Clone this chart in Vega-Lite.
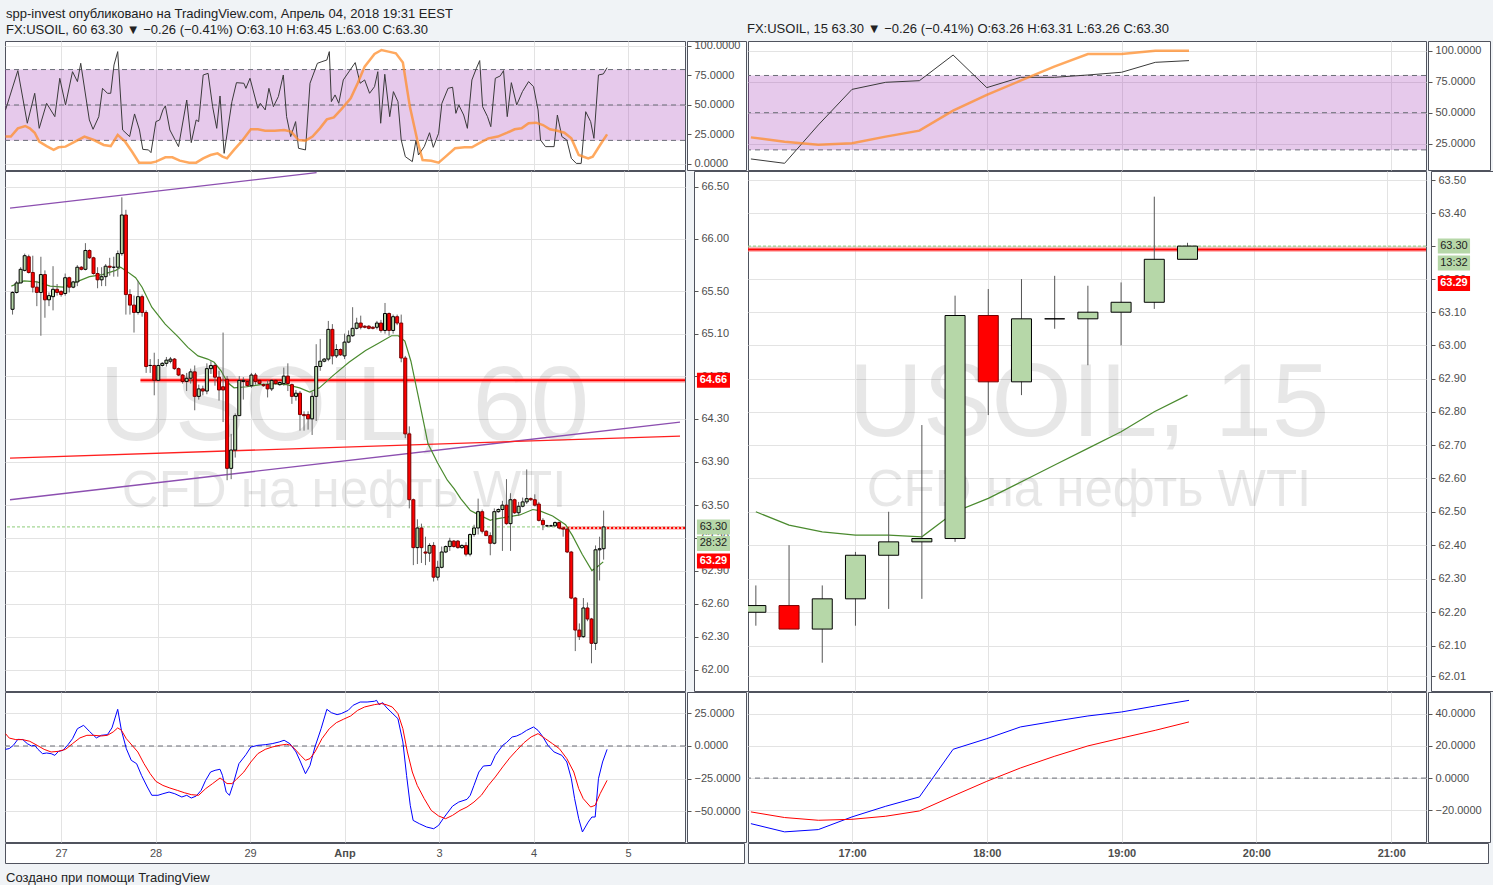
{
"$schema": "https://vega.github.io/schema/vega-lite/v6.json",
"background": "#f0f3f6",
"padding": {"left": 4, "top": 7, "right": 0, "bottom": 0},
"config": {
  "view": {"stroke": "#50535e", "strokeWidth": 1, "fill": "#ffffff"},
  "axis": {"labelFont": "Liberation Sans, Arial, sans-serif", "labelFontSize": 11, "labelColor": "#4d4d4d", "gridColor": "#e3e3e3", "gridWidth": 1, "tickColor": "#555555"},
  "concat": {"spacing": 0},
  "text": {"font": "Liberation Sans, sans-serif"}
},
"datasets": {
"c60": [
{"i":-13,"o":65.33,"hi":65.50,"lo":65.28,"c":65.49},{"i":-12,"o":65.49,"hi":65.60,"lo":65.48,"c":65.58},{"i":-11,"o":65.58,"hi":65.73,"lo":65.58,"c":65.71},{"i":-10,"o":65.70,"hi":65.86,"lo":65.69,"c":65.84},{"i":-9,"o":65.83,"hi":65.85,"lo":65.67,"c":65.68},{"i":-8,"o":65.68,"hi":65.84,"lo":65.49,"c":65.54},{"i":-7,"o":65.54,"hi":65.60,"lo":65.36,"c":65.49},{"i":-6,"o":65.49,"hi":65.83,"lo":65.08,"c":65.66},{"i":-5,"o":65.66,"hi":65.70,"lo":65.25,"c":65.42},{"i":-4,"o":65.42,"hi":65.49,"lo":65.36,"c":65.46},{"i":-3,"o":65.45,"hi":65.74,"lo":65.32,"c":65.52},{"i":-2,"o":65.52,"hi":65.57,"lo":65.46,"c":65.49},{"i":-1,"o":65.50,"hi":65.51,"lo":65.45,"c":65.47},
{"i":0,"o":65.48,"hi":65.67,"lo":65.46,"c":65.63},{"i":1,"o":65.63,"hi":65.64,"lo":65.49,"c":65.54},{"i":2,"o":65.54,"hi":65.60,"lo":65.53,"c":65.59},{"i":3,"o":65.59,"hi":65.75,"lo":65.55,"c":65.73},{"i":4,"o":65.73,"hi":65.74,"lo":65.70,"c":65.71},{"i":5,"o":65.71,"hi":65.96,"lo":65.70,"c":65.89},{"i":6,"o":65.89,"hi":65.90,"lo":65.81,"c":65.82},{"i":7,"o":65.82,"hi":65.83,"lo":65.66,"c":65.67},{"i":8,"o":65.67,"hi":65.73,"lo":65.53,"c":65.61},{"i":9,"o":65.61,"hi":65.73,"lo":65.55,"c":65.64},{"i":10,"o":65.64,"hi":65.76,"lo":65.55,"c":65.74},{"i":11,"o":65.74,"hi":65.82,"lo":65.65,"c":65.73},{"i":12,"o":65.73,"hi":65.83,"lo":65.64,"c":65.73},{"i":13,"o":65.73,"hi":65.89,"lo":65.64,"c":65.86},{"i":14,"o":65.86,"hi":66.40,"lo":65.84,"c":66.23},{"i":15,"o":66.23,"hi":66.28,"lo":65.28,"c":65.47},{"i":16,"o":65.47,"hi":65.52,"lo":65.28,"c":65.37},{"i":17,"o":65.37,"hi":65.46,"lo":65.11,"c":65.30},{"i":18,"o":65.30,"hi":65.60,"lo":65.28,"c":65.45},{"i":19,"o":65.45,"hi":65.47,"lo":65.26,"c":65.30},{"i":20,"o":65.30,"hi":65.32,"lo":64.73,"c":64.79},{"i":21,"o":64.80,"hi":64.86,"lo":64.73,"c":64.80},{"i":22,"o":64.80,"hi":64.92,"lo":64.52,"c":64.66},
{"i":23,"o":64.66,"hi":64.86,"lo":64.66,"c":64.80},{"i":24,"o":64.80,"hi":64.83,"lo":64.79,"c":64.82},{"i":25,"o":64.82,"hi":64.88,"lo":64.79,"c":64.85},{"i":26,"o":64.84,"hi":64.88,"lo":64.82,"c":64.86},{"i":27,"o":64.86,"hi":64.87,"lo":64.76,"c":64.77},{"i":28,"o":64.77,"hi":64.78,"lo":64.70,"c":64.71},{"i":29,"o":64.71,"hi":64.72,"lo":64.63,"c":64.65},{"i":30,"o":64.65,"hi":64.73,"lo":64.56,"c":64.68},{"i":31,"o":64.68,"hi":64.77,"lo":64.63,"c":64.74},{"i":32,"o":64.74,"hi":64.80,"lo":64.38,"c":64.51},{"i":33,"o":64.51,"hi":64.62,"lo":64.48,"c":64.58},{"i":34,"o":64.58,"hi":64.61,"lo":64.52,"c":64.56},{"i":35,"o":64.56,"hi":64.82,"lo":64.53,"c":64.77},{"i":36,"o":64.77,"hi":64.84,"lo":64.72,"c":64.80},{"i":37,"o":64.80,"hi":64.82,"lo":64.61,"c":64.69},{"i":38,"o":64.69,"hi":64.75,"lo":64.47,"c":64.57},{"i":39,"o":64.60,"hi":65.11,"lo":64.27,"c":64.57},{"i":40,"o":64.67,"hi":64.70,"lo":63.73,"c":63.84},{"i":41,"o":63.84,"hi":64.16,"lo":63.74,"c":64.01},{"i":42,"o":64.01,"hi":64.35,"lo":63.94,"c":64.33},{"i":43,"o":64.33,"hi":64.70,"lo":64.33,"c":64.66},{"i":44,"o":64.65,"hi":64.69,"lo":64.48,"c":64.66},{"i":45,"o":64.65,"hi":64.66,"lo":64.60,"c":64.61},
{"i":46,"o":64.61,"hi":64.73,"lo":64.59,"c":64.71},{"i":47,"o":64.71,"hi":64.73,"lo":64.62,"c":64.65},{"i":48,"o":64.66,"hi":64.67,"lo":64.62,"c":64.63},{"i":49,"o":64.62,"hi":64.63,"lo":64.60,"c":64.61},{"i":50,"o":64.62,"hi":64.66,"lo":64.50,"c":64.58},{"i":51,"o":64.58,"hi":64.67,"lo":64.56,"c":64.66},{"i":52,"o":64.66,"hi":64.67,"lo":64.62,"c":64.63},{"i":53,"o":64.62,"hi":64.65,"lo":64.61,"c":64.64},{"i":54,"o":64.63,"hi":64.78,"lo":64.61,"c":64.70},{"i":55,"o":64.70,"hi":64.82,"lo":64.56,"c":64.63},{"i":56,"o":64.62,"hi":64.63,"lo":64.44,"c":64.51},{"i":57,"o":64.51,"hi":64.57,"lo":64.47,"c":64.54},{"i":58,"o":64.54,"hi":64.56,"lo":64.19,"c":64.34},{"i":59,"o":64.34,"hi":64.37,"lo":64.19,"c":64.33},{"i":60,"o":64.34,"hi":64.37,"lo":64.20,"c":64.30},{"i":61,"o":64.30,"hi":64.55,"lo":64.15,"c":64.51},{"i":62,"o":64.51,"hi":65.00,"lo":64.28,"c":64.79},{"i":63,"o":64.79,"hi":65.05,"lo":64.75,"c":64.84},{"i":64,"o":64.84,"hi":64.87,"lo":64.83,"c":64.86},{"i":65,"o":64.86,"hi":65.22,"lo":64.84,"c":65.14},{"i":66,"o":65.14,"hi":65.19,"lo":64.81,"c":64.89},{"i":67,"o":64.89,"hi":65.00,"lo":64.87,"c":64.95},{"i":68,"o":64.95,"hi":64.96,"lo":64.89,"c":64.90},
{"i":69,"o":64.89,"hi":65.10,"lo":64.86,"c":65.02},{"i":70,"o":65.02,"hi":65.13,"lo":65.01,"c":65.08},{"i":71,"o":65.08,"hi":65.35,"lo":65.07,"c":65.15},{"i":72,"o":65.15,"hi":65.25,"lo":65.14,"c":65.20},{"i":73,"o":65.20,"hi":65.27,"lo":65.14,"c":65.16},{"i":74,"o":65.17,"hi":65.18,"lo":65.15,"c":65.16},{"i":75,"o":65.17,"hi":65.18,"lo":65.14,"c":65.15},{"i":76,"o":65.16,"hi":65.17,"lo":65.14,"c":65.15},{"i":77,"o":65.16,"hi":65.22,"lo":65.14,"c":65.20},{"i":78,"o":65.20,"hi":65.23,"lo":65.11,"c":65.13},{"i":79,"o":65.13,"hi":65.39,"lo":65.10,"c":65.29},{"i":80,"o":65.29,"hi":65.30,"lo":65.08,"c":65.13},{"i":81,"o":65.13,"hi":65.28,"lo":65.10,"c":65.26},{"i":82,"o":65.26,"hi":65.28,"lo":65.18,"c":65.20},{"i":83,"o":65.20,"hi":65.28,"lo":64.83,"c":64.87},{"i":84,"o":64.87,"hi":64.89,"lo":64.12,"c":64.16},{"i":85,"o":64.16,"hi":64.23,"lo":63.47,"c":63.55},{"i":86,"o":63.55,"hi":63.56,"lo":62.95,"c":63.11},{"i":87,"o":63.11,"hi":63.37,"lo":62.96,"c":63.29},{"i":88,"o":63.29,"hi":63.33,"lo":62.97,"c":63.11},{"i":89,"o":63.07,"hi":63.21,"lo":62.95,"c":63.06},{"i":90,"o":63.06,"hi":63.15,"lo":62.98,"c":63.13},{"i":91,"o":63.13,"hi":63.16,"lo":62.80,"c":62.84},
{"i":92,"o":62.84,"hi":62.99,"lo":62.81,"c":62.93},{"i":93,"o":62.93,"hi":63.12,"lo":62.92,"c":63.07},{"i":94,"o":63.07,"hi":63.13,"lo":63.06,"c":63.12},{"i":95,"o":63.12,"hi":63.20,"lo":63.08,"c":63.17},{"i":96,"o":63.17,"hi":63.18,"lo":63.11,"c":63.12},{"i":97,"o":63.17,"hi":63.18,"lo":63.10,"c":63.11},{"i":98,"o":63.11,"hi":63.14,"lo":63.10,"c":63.13},{"i":99,"o":63.13,"hi":63.16,"lo":63.03,"c":63.05},{"i":100,"o":63.05,"hi":63.24,"lo":63.03,"c":63.23},{"i":101,"o":63.23,"hi":63.32,"lo":63.21,"c":63.29},{"i":102,"o":63.29,"hi":63.56,"lo":63.23,"c":63.44},{"i":103,"o":63.44,"hi":63.46,"lo":63.24,"c":63.26},{"i":104,"o":63.26,"hi":63.27,"lo":63.22,"c":63.22},{"i":105,"o":63.22,"hi":63.25,"lo":63.04,"c":63.15},{"i":106,"o":63.15,"hi":63.47,"lo":63.14,"c":63.44},{"i":107,"o":63.44,"hi":63.47,"lo":63.43,"c":63.46},{"i":108,"o":63.46,"hi":63.54,"lo":63.08,"c":63.50},{"i":109,"o":63.50,"hi":63.74,"lo":63.32,"c":63.33},{"i":110,"o":63.33,"hi":63.61,"lo":63.08,"c":63.55},{"i":111,"o":63.55,"hi":63.56,"lo":63.42,"c":63.43},{"i":112,"o":63.43,"hi":63.53,"lo":63.40,"c":63.49},{"i":113,"o":63.49,"hi":63.57,"lo":63.48,"c":63.53},{"i":114,"o":63.53,"hi":63.83,"lo":63.51,"c":63.56},
{"i":115,"o":63.56,"hi":63.57,"lo":63.54,"c":63.55},{"i":116,"o":63.55,"hi":63.60,"lo":63.49,"c":63.50},{"i":117,"o":63.51,"hi":63.53,"lo":63.35,"c":63.36},{"i":118,"o":63.36,"hi":63.38,"lo":63.27,"c":63.32},{"i":119,"o":63.31,"hi":63.32,"lo":63.30,"c":63.31},{"i":120,"o":63.31,"hi":63.32,"lo":63.30,"c":63.31},{"i":121,"o":63.31,"hi":63.35,"lo":63.30,"c":63.34},{"i":122,"o":63.34,"hi":63.35,"lo":63.28,"c":63.29},{"i":123,"o":63.29,"hi":63.29,"lo":63.21,"c":63.28},{"i":124,"o":63.28,"hi":63.29,"lo":63.06,"c":63.07},{"i":125,"o":63.07,"hi":63.08,"lo":62.64,"c":62.65},{"i":126,"o":62.65,"hi":62.66,"lo":62.17,"c":62.36},{"i":127,"o":62.36,"hi":62.42,"lo":62.27,"c":62.30},{"i":128,"o":62.30,"hi":62.65,"lo":62.29,"c":62.56},{"i":129,"o":62.56,"hi":62.61,"lo":62.44,"c":62.46},{"i":130,"o":62.46,"hi":62.47,"lo":62.06,"c":62.24},{"i":131,"o":62.24,"hi":63.13,"lo":62.18,"c":63.09},{"i":132,"o":63.09,"hi":63.21,"lo":62.81,"c":63.10},{"i":133,"o":63.10,"hi":63.45,"lo":63.00,"c":63.30}
],
"ema60": [
{"i":-13.3,"v":65.55},{"i":-10.2,"v":65.60},{"i":-7.0,"v":65.59},{"i":-3.7,"v":65.55},{"i":-0.5,"v":65.54},{"i":2.8,"v":65.59},{"i":6.0,"v":65.64},{"i":9.2,"v":65.66},{"i":12.5,"v":65.70},{"i":13.7,"v":65.73},{"i":14.9,"v":65.70},{"i":17.4,"v":65.63},{"i":19.0,"v":65.54},{"i":21.4,"v":65.35},{"i":24.7,"v":65.19},{"i":27.9,"v":65.07},{"i":30.3,"v":64.97},{"i":32.8,"v":64.89},{"i":35.2,"v":64.86},{"i":36.8,"v":64.83},{"i":38.5,"v":64.75},{"i":40.1,"v":64.64},{"i":41.7,"v":64.59},{"i":44.9,"v":64.60},{"i":48.2,"v":64.62},{"i":51.4,"v":64.63},{"i":54.7,"v":64.62},{"i":57.9,"v":64.59},{"i":60.4,"v":64.55},{"i":62.8,"v":64.59},{"i":66.0,"v":64.70},{"i":70.1,"v":64.83},{"i":74.2,"v":64.94},{"i":77.4,"v":65.01},{"i":80.6,"v":65.08},{"i":82.3,"v":65.08},{"i":83.9,"v":65.03},{"i":85.4,"v":64.84},{"i":87.1,"v":64.53},{"i":88.8,"v":64.22},{"i":89.6,"v":64.07},{"i":92.0,"v":63.89},{"i":94.4,"v":63.73},{"i":96.1,"v":63.65},{"i":97.7,"v":63.56},{"i":100.1,"v":63.45},{"i":101.7,"v":63.42},{"i":105.0,"v":63.36},{"i":105.8,"v":63.37},{"i":109.0,"v":63.39},{"i":112.3,"v":63.41},{"i":115.5,"v":63.46},{"i":117.1,"v":63.45},{"i":120.4,"v":63.40},{"i":123.6,"v":63.32},{"i":125.3,"v":63.22},{"i":127.7,"v":63.05},{"i":130.1,"v":62.90},{"i":131.3,"v":62.93},{"i":132.9,"v":62.98}
],
"k60": [
{"i":-13.5,"v":45.8},{"i":-10.5,"v":79.1},{"i":-8.2,"v":34.5},{"i":-6.4,"v":59.9},{"i":-5.3,"v":30.2},{"i":-3.5,"v":51.4},{"i":-1.5,"v":40.1},{"i":-0.3,"v":72.6},{"i":1.1,"v":50.0},{"i":2.8,"v":78.2},{"i":4.0,"v":69.8},{"i":4.8,"v":85.3},{"i":6.9,"v":37.3},{"i":7.8,"v":29.4},{"i":9.2,"v":40.1},{"i":10.1,"v":64.1},{"i":11.3,"v":59.9},{"i":12.1,"v":59.9},{"i":12.9,"v":83.9},{"i":13.8,"v":95.2},{"i":15.0,"v":28.8},{"i":16.7,"v":23.2},{"i":17.9,"v":42.4},{"i":19.1,"v":28.8},{"i":19.9,"v":12.4},{"i":21.3,"v":11.9},{"i":21.9,"v":9.6},{"i":23.1,"v":35.9},{"i":24.0,"v":37.3},{"i":24.8,"v":45.8},{"i":25.4,"v":49.2},{"i":26.5,"v":28.8},{"i":28.6,"v":14.7},{"i":30.6,"v":54.2},{"i":31.7,"v":18.1},{"i":32.9,"v":37.3},{"i":33.5,"v":35.9},{"i":34.6,"v":75.4},{"i":35.8,"v":76.8},{"i":36.9,"v":48.6},{"i":37.9,"v":30.2},{"i":38.7,"v":57.6},{"i":39.7,"v":9.0},{"i":41.6,"v":52.8},{"i":42.7,"v":68.9},{"i":44.5,"v":68.4},{"i":45.0,"v":64.1},{"i":46.0,"v":72.6},{"i":47.9,"v":47.2},{"i":48.5,"v":51.4},{"i":49.7,"v":45.8},{"i":50.6,"v":64.1},{"i":51.7,"v":48.6},{"i":52.9,"v":57.1},{"i":54.1,"v":75.4},{"i":54.9,"v":40.1},{"i":55.9,"v":23.2},{"i":57.1,"v":35.9},{"i":57.8,"v":13.3},{"i":59.5,"v":11.9},{"i":60.6,"v":68.4},{"i":62.4,"v":85.3},{"i":63.5,"v":86.7},{"i":64.7,"v":88.1},{"i":65.3,"v":95.2},{"i":65.8,"v":52.8},{"i":66.7,"v":58.5},{"i":67.6,"v":51.4},{"i":68.7,"v":71.2},{"i":71.6,"v":85.9},{"i":72.8,"v":68.4},{"i":73.9,"v":71.2},{"i":75.1,"v":59.9},{"i":76.3,"v":65.5},{"i":77.1,"v":78.2},{"i":77.8,"v":34.5},{"i":78.8,"v":76.0},{"i":80.0,"v":40.1},{"i":80.9,"v":61.3},{"i":82.0,"v":52.8},{"i":82.8,"v":20.3},{"i":83.8,"v":6.2},{"i":85.5,"v":2.0},{"i":86.4,"v":20.3},{"i":87.0,"v":7.6},{"i":88.4,"v":14.7},{"i":89.7,"v":26.5},{"i":90.6,"v":14.1},{"i":91.9,"v":26.0},{"i":92.7,"v":51.4},{"i":94.2,"v":64.1},{"i":95.3,"v":65.0},{"i":96.1,"v":42.9},{"i":96.8,"v":50.0},{"i":98.0,"v":41.5},{"i":98.9,"v":30.2},{"i":100.0,"v":71.2},{"i":101.1,"v":81.1},{"i":101.9,"v":87.6},{"i":102.6,"v":48.6},{"i":103.8,"v":40.1},{"i":104.6,"v":31.6},{"i":105.7,"v":72.6},{"i":106.9,"v":74.6},{"i":107.7,"v":79.1},{"i":108.6,"v":40.1},{"i":109.6,"v":68.9},{"i":110.9,"v":50.0},{"i":112.3,"v":61.3},{"i":113.8,"v":69.8},{"i":115.0,"v":65.5},{"i":116.1,"v":45.8},{"i":116.7,"v":20.3},{"i":117.9,"v":14.7},{"i":120.0,"v":14.7},{"i":120.8,"v":41.5},{"i":121.9,"v":23.2},{"i":123.1,"v":20.3},{"i":124.2,"v":4.8},{"i":125.4,"v":0.5},{"i":126.6,"v":0.5},{"i":127.7,"v":44.3},{"i":128.9,"v":35.9},{"i":129.7,"v":21.7},{"i":130.8,"v":75.4},{"i":132.0,"v":76.3},{"i":132.9,"v":81.6}
],
"d60": [
{"i":-13.5,"v":23.2},{"i":-12.2,"v":23.2},{"i":-10.5,"v":30.2},{"i":-8.7,"v":32.2},{"i":-7.6,"v":30.2},{"i":-6.4,"v":26.5},{"i":-5.3,"v":18.9},{"i":-3.5,"v":15.2},{"i":-1.8,"v":11.9},{"i":-0.6,"v":14.1},{"i":1.1,"v":14.7},{"i":3.4,"v":18.9},{"i":5.7,"v":23.2},{"i":8.0,"v":20.3},{"i":10.4,"v":16.1},{"i":12.1,"v":15.2},{"i":13.8,"v":24.6},{"i":15.6,"v":18.9},{"i":17.3,"v":10.4},{"i":19.0,"v":1.1},{"i":21.9,"v":1.1},{"i":23.1,"v":2.0},{"i":25.4,"v":5.6},{"i":27.1,"v":5.6},{"i":28.9,"v":2.8},{"i":31.2,"v":1.1},{"i":32.9,"v":1.1},{"i":34.6,"v":4.8},{"i":36.4,"v":7.6},{"i":38.1,"v":9.0},{"i":39.3,"v":6.2},{"i":40.4,"v":4.8},{"i":42.1,"v":11.9},{"i":43.9,"v":18.9},{"i":46.2,"v":29.4},{"i":47.9,"v":29.4},{"i":49.7,"v":28.2},{"i":52.0,"v":28.2},{"i":54.3,"v":28.8},{"i":56.0,"v":27.4},{"i":57.8,"v":20.3},{"i":59.5,"v":19.8},{"i":61.2,"v":23.2},{"i":63.0,"v":30.2},{"i":64.7,"v":37.8},{"i":66.4,"v":39.5},{"i":68.2,"v":46.3},{"i":70.5,"v":55.7},{"i":72.2,"v":68.4},{"i":73.9,"v":82.5},{"i":76.3,"v":93.2},{"i":78.0,"v":96.6},{"i":79.7,"v":95.2},{"i":81.5,"v":93.8},{"i":83.2,"v":85.9},{"i":84.9,"v":48.6},{"i":86.7,"v":20.3},{"i":88.0,"v":3.4},{"i":90.1,"v":2.8},{"i":91.9,"v":1.1},{"i":93.6,"v":6.2},{"i":95.9,"v":13.3},{"i":98.2,"v":14.1},{"i":100.0,"v":14.1},{"i":101.7,"v":17.5},{"i":104.0,"v":21.7},{"i":106.3,"v":23.2},{"i":108.6,"v":26.5},{"i":110.4,"v":29.4},{"i":112.1,"v":30.2},{"i":113.8,"v":34.5},{"i":115.6,"v":35.0},{"i":117.3,"v":33.0},{"i":119.0,"v":29.4},{"i":120.8,"v":28.2},{"i":122.5,"v":26.5},{"i":124.2,"v":21.7},{"i":126.0,"v":7.6},{"i":128.3,"v":4.8},{"i":129.4,"v":6.2},{"i":131.2,"v":16.1},{"i":132.9,"v":25.1}
],
"ob60": [
{"i":-13.5,"v":-2.6},{"i":-12.6,"v":-2.0},{"i":-11.6,"v":0.5},{"i":-10.5,"v":5.1},{"i":-9.3,"v":4.9},{"i":-8.2,"v":1.8},{"i":-7.2,"v":0.0},{"i":-6.4,"v":0.5},{"i":-5.6,"v":-2.6},{"i":-4.5,"v":-5.9},{"i":-3.5,"v":-5.4},{"i":-2.4,"v":-5.9},{"i":-1.5,"v":-7.2},{"i":-0.6,"v":-4.1},{"i":0.5,"v":-3.3},{"i":1.7,"v":1.0},{"i":2.8,"v":5.6},{"i":4.0,"v":13.3},{"i":5.5,"v":15.9},{"i":6.9,"v":11.3},{"i":8.6,"v":6.2},{"i":9.8,"v":8.2},{"i":11.3,"v":8.7},{"i":12.4,"v":13.9},{"i":13.8,"v":28.2},{"i":14.7,"v":12.1},{"i":15.9,"v":-2.1},{"i":17.1,"v":-11.0},{"i":18.4,"v":-13.6},{"i":19.6,"v":-22.6},{"i":21.0,"v":-31.5},{"i":22.1,"v":-37.9},{"i":23.6,"v":-37.9},{"i":24.8,"v":-36.7},{"i":26.3,"v":-35.4},{"i":27.7,"v":-36.7},{"i":29.4,"v":-39.2},{"i":30.6,"v":-37.9},{"i":31.7,"v":-40.0},{"i":32.9,"v":-38.5},{"i":34.1,"v":-34.1},{"i":35.2,"v":-26.4},{"i":36.4,"v":-20.0},{"i":37.5,"v":-18.7},{"i":38.7,"v":-17.9},{"i":39.3,"v":-22.6},{"i":40.2,"v":-35.4},{"i":41.0,"v":-37.9},{"i":41.8,"v":-30.3},{"i":43.3,"v":-13.6},{"i":45.0,"v":-6.7},{"i":46.2,"v":-0.8},{"i":47.9,"v":0.5},{"i":49.7,"v":1.0},{"i":51.4,"v":1.8},{"i":53.1,"v":3.1},{"i":54.3,"v":4.4},{"i":55.7,"v":1.8},{"i":57.2,"v":-4.6},{"i":58.3,"v":-12.3},{"i":59.5,"v":-21.3},{"i":60.6,"v":-14.9},{"i":61.8,"v":-0.8},{"i":63.3,"v":13.3},{"i":64.7,"v":28.2},{"i":65.8,"v":25.6},{"i":67.2,"v":24.1},{"i":68.2,"v":24.9},{"i":69.9,"v":27.4},{"i":71.1,"v":31.3},{"i":72.8,"v":33.8},{"i":74.5,"v":33.8},{"i":76.3,"v":34.4},{"i":76.8,"v":35.1},{"i":77.4,"v":31.8},{"i":78.3,"v":33.3},{"i":79.1,"v":30.0},{"i":80.3,"v":26.2},{"i":82.0,"v":21.0},{"i":83.2,"v":3.1},{"i":84.1,"v":-22.6},{"i":85.0,"v":-45.6},{"i":85.7,"v":-57.2},{"i":87.2,"v":-59.7},{"i":89.0,"v":-62.3},{"i":90.7,"v":-63.6},{"i":91.9,"v":-61.0},{"i":93.0,"v":-55.9},{"i":94.2,"v":-50.8},{"i":95.3,"v":-46.2},{"i":96.8,"v":-43.1},{"i":98.8,"v":-41.0},{"i":99.6,"v":-37.9},{"i":100.5,"v":-30.3},{"i":101.7,"v":-20.0},{"i":102.8,"v":-15.4},{"i":104.6,"v":-14.9},{"i":105.7,"v":-7.2},{"i":107.5,"v":0.5},{"i":108.4,"v":2.6},{"i":109.8,"v":6.9},{"i":110.9,"v":7.7},{"i":112.1,"v":9.5},{"i":113.3,"v":12.0},{"i":115.0,"v":14.6},{"i":116.1,"v":12.0},{"i":117.3,"v":6.9},{"i":118.5,"v":0.5},{"i":120.0,"v":-4.6},{"i":121.9,"v":-7.2},{"i":123.1,"v":-12.3},{"i":124.2,"v":-25.1},{"i":125.0,"v":-40.5},{"i":126.0,"v":-55.9},{"i":126.9,"v":-66.1},{"i":128.3,"v":-58.5},{"i":129.2,"v":-54.6},{"i":130.0,"v":-54.6},{"i":130.8,"v":-25.1},{"i":131.8,"v":-12.3},{"i":132.9,"v":-2.6}
],
"or60": [
{"i":-13.5,"v":9.5},{"i":-12.6,"v":6.1},{"i":-11.0,"v":4.9},{"i":-9.3,"v":4.9},{"i":-7.6,"v":3.6},{"i":-5.8,"v":0.5},{"i":-4.1,"v":-2.6},{"i":-2.4,"v":-4.6},{"i":-0.6,"v":-4.1},{"i":1.1,"v":-2.6},{"i":2.8,"v":1.8},{"i":4.6,"v":6.2},{"i":6.3,"v":8.2},{"i":8.0,"v":8.2},{"i":9.8,"v":7.7},{"i":11.3,"v":8.2},{"i":12.7,"v":10.8},{"i":13.8,"v":13.9},{"i":14.7,"v":12.1},{"i":15.9,"v":5.6},{"i":17.3,"v":0.5},{"i":18.7,"v":-4.6},{"i":20.2,"v":-13.6},{"i":21.7,"v":-21.3},{"i":23.1,"v":-27.2},{"i":24.8,"v":-30.3},{"i":26.5,"v":-32.3},{"i":28.3,"v":-34.1},{"i":30.0,"v":-35.9},{"i":31.7,"v":-37.4},{"i":33.5,"v":-37.9},{"i":35.2,"v":-32.8},{"i":36.9,"v":-28.9},{"i":38.7,"v":-24.6},{"i":39.5,"v":-26.4},{"i":40.4,"v":-28.9},{"i":41.6,"v":-28.9},{"i":42.7,"v":-25.6},{"i":44.5,"v":-20.0},{"i":46.2,"v":-12.3},{"i":47.9,"v":-5.9},{"i":49.7,"v":-2.6},{"i":51.4,"v":-0.8},{"i":53.1,"v":0.5},{"i":54.9,"v":1.3},{"i":56.0,"v":0.5},{"i":57.2,"v":-3.3},{"i":58.3,"v":-7.2},{"i":59.5,"v":-11.0},{"i":60.6,"v":-9.7},{"i":61.8,"v":-4.6},{"i":63.5,"v":5.6},{"i":65.3,"v":13.3},{"i":67.0,"v":17.9},{"i":68.7,"v":20.5},{"i":70.5,"v":23.1},{"i":72.2,"v":27.4},{"i":73.9,"v":30.0},{"i":76.3,"v":31.8},{"i":78.0,"v":32.6},{"i":79.1,"v":31.8},{"i":80.6,"v":30.0},{"i":82.0,"v":24.9},{"i":83.2,"v":13.3},{"i":84.3,"v":-4.6},{"i":85.5,"v":-20.0},{"i":86.7,"v":-30.3},{"i":88.4,"v":-40.5},{"i":90.1,"v":-49.5},{"i":91.9,"v":-53.8},{"i":93.6,"v":-55.9},{"i":95.3,"v":-53.3},{"i":97.1,"v":-49.5},{"i":98.8,"v":-46.9},{"i":100.5,"v":-43.1},{"i":102.3,"v":-37.9},{"i":104.0,"v":-30.3},{"i":105.7,"v":-23.8},{"i":107.5,"v":-16.1},{"i":109.2,"v":-9.2},{"i":110.9,"v":-3.3},{"i":112.7,"v":2.6},{"i":114.4,"v":6.9},{"i":116.1,"v":9.5},{"i":117.9,"v":5.6},{"i":119.6,"v":1.8},{"i":121.3,"v":-2.1},{"i":123.1,"v":-9.7},{"i":124.8,"v":-20.0},{"i":126.0,"v":-32.8},{"i":127.1,"v":-40.5},{"i":128.9,"v":-46.9},{"i":130.0,"v":-45.6},{"i":131.2,"v":-36.7},{"i":132.9,"v":-26.4}
],
"tr60": [
{"n":"a","i":-13.63,"p":66.295},{"n":"a","i":62.1,"p":66.638},
{"n":"b","i":-13.63,"p":63.55},{"n":"b","i":151.86,"p":64.27},
{"n":"c","i":-13.63,"p":63.935},{"n":"c","i":151.86,"p":64.14}
],
"mk60": [
{"p":64.66,"lab":"64.66","kind":"level"},{"p":63.30,"lab":"63.30","kind":"price"},{"p":63.30,"lab":"28:32","kind":"timer"},{"p":63.29,"lab":"63.29","kind":"alert"}
],
"mk15": [
{"p":63.30,"lab":"63.30","kind":"price"},{"p":63.30,"lab":"13:32","kind":"timer"},{"p":63.29,"lab":"63.29","kind":"alert"}
],
"c15": [
{"t":16.25,"o":62.20,"hi":62.28,"lo":62.16,"c":62.22},{"t":16.5,"o":62.22,"hi":62.40,"lo":62.15,"c":62.15},{"t":16.75,"o":62.15,"hi":62.28,"lo":62.05,"c":62.24},{"t":17.0,"o":62.24,"hi":62.38,"lo":62.16,"c":62.37},{"t":17.25,"o":62.37,"hi":62.50,"lo":62.21,"c":62.41},{"t":17.5,"o":62.41,"hi":62.76,"lo":62.24,"c":62.42},{"t":17.75,"o":62.42,"hi":63.15,"lo":62.41,"c":63.09},{"t":18.0,"o":63.09,"hi":63.17,"lo":62.79,"c":62.89},{"t":18.25,"o":62.89,"hi":63.20,"lo":62.85,"c":63.08},{"t":18.5,"o":63.08,"hi":63.21,"lo":63.05,"c":63.08},{"t":18.75,"o":63.08,"hi":63.18,"lo":62.94,"c":63.10},{"t":19.0,"o":63.10,"hi":63.19,"lo":63.00,"c":63.13},{"t":19.25,"o":63.13,"hi":63.45,"lo":63.11,"c":63.26},{"t":19.5,"o":63.26,"hi":63.31,"lo":63.26,"c":63.30}
],
"ema15": [
{"t":16.25,"v":62.50},{"t":16.5,"v":62.46},{"t":16.75,"v":62.44},{"t":17.0,"v":62.43},{"t":17.25,"v":62.43},{"t":17.5,"v":62.425},{"t":17.75,"v":62.50},{"t":18.0,"v":62.54},{"t":18.25,"v":62.59},{"t":18.5,"v":62.64},{"t":18.75,"v":62.69},{"t":19.0,"v":62.74},{"t":19.25,"v":62.80},{"t":19.5,"v":62.85}
],
"k15": [
{"t":16.25,"v":12.7},{"t":16.5,"v":9.2},{"t":16.75,"v":40.1},{"t":17.0,"v":68.8},{"t":17.25,"v":74.5},{"t":17.5,"v":75.8},{"t":17.75,"v":96.5},{"t":18.0,"v":70.2},{"t":18.25,"v":78.5},{"t":18.5,"v":78.5},{"t":18.75,"v":80.4},{"t":19.0,"v":82.6},{"t":19.25,"v":90.6},{"t":19.5,"v":92.0}
],
"d15": [
{"t":16.25,"v":30.1},{"t":16.5,"v":26.6},{"t":16.75,"v":24.2},{"t":17.0,"v":25.3},{"t":17.25,"v":30.7},{"t":17.5,"v":35.5},{"t":17.75,"v":51.6},{"t":18.0,"v":64.3},{"t":18.25,"v":75.8},{"t":18.5,"v":87.1},{"t":18.75,"v":97.3},{"t":19.0,"v":97.3},{"t":19.25,"v":100.0},{"t":19.5,"v":100.0}
],
"ob15": [
{"t":16.25,"v":-28.3},{"t":16.5,"v":-33.4},{"t":16.75,"v":-32.0},{"t":17.0,"v":-24.1},{"t":17.25,"v":-17.5},{"t":17.5,"v":-11.7},{"t":17.75,"v":17.9},{"t":18.0,"v":24.5},{"t":18.25,"v":31.8},{"t":18.5,"v":35.3},{"t":18.75,"v":38.6},{"t":19.0,"v":41.1},{"t":19.25,"v":44.8},{"t":19.5,"v":48.3}
],
"or15": [
{"t":16.25,"v":-21.0},{"t":16.5,"v":-24.5},{"t":16.75,"v":-26.2},{"t":17.0,"v":-25.6},{"t":17.25,"v":-23.7},{"t":17.5,"v":-20.4},{"t":17.75,"v":-11.1},{"t":18.0,"v":-2.0},{"t":18.25,"v":6.3},{"t":18.5,"v":13.5},{"t":18.75,"v":20.0},{"t":19.0,"v":24.9},{"t":19.25,"v":29.7},{"t":19.5,"v":34.9}
]
},
"title": {"text": "Создано при помощи   TradingView", "orient": "bottom", "anchor": "start", "dx": 2, "fontSize": 13, "fontWeight": "normal", "color": "#222222", "offset": 8, "font": "Liberation Sans, sans-serif"},
"vconcat": [
{
"title": {"text": "spp-invest опубликовано на TradingView.com, Апрель 04, 2018 19:31 EEST", "anchor": "start", "dx": 2, "fontSize": 13, "fontWeight": "normal", "color": "#222222", "offset": 2, "font": "Liberation Sans, sans-serif"},
"spacing": 743,
"bounds": "flush",
"hconcat": [
{
"title": {"text": "FX:USOIL, 60  63.30 ▼ −0.26 (−0.41%)  O:63.10  H:63.45  L:63.00  C:63.30", "anchor": "start", "dx": 2, "dy": 3, "fontSize": 13, "fontWeight": "normal", "color": "#222222", "offset": 5, "font": "Liberation Sans, sans-serif"},
"spacing": -2,
"vconcat": [
{"spacing": 0, "hconcat": [
 {"width": 680, "height": 129, "layer": [
  {"data": {"values": [{}]}, "mark": {"type": "rect", "fill": "#9c27b0", "opacity": 0.25},
   "encoding": {"x": {"value": 0}, "x2": {"value": "width"}, "y": {"datum": 20, "type": "quantitative", "scale": {"domain": [-5.1, 104.2], "nice": false, "zero": false}, "axis": {"values": [0,25,50,75,100], "labels": false, "ticks": false, "domain": false, "grid": true, "title": null}, "title": null}, "y2": {"datum": 80}}},
  {"data": {"values": [{"lvl": 80}, {"lvl": 50}, {"lvl": 20}]}, "mark": {"type": "rule", "color": "#6b6e78", "strokeDash": [5, 4], "strokeWidth": 1},
   "encoding": {"y": {"field": "lvl", "type": "quantitative", "title": null}}},
  {"data": {"name": "k60"}, "mark": {"type": "line", "color": "#3a3a3a", "strokeWidth": 1, "clip": true},
   "encoding": {"x": {"field": "i", "type": "quantitative", "scale": {"domain": [-13.629, 151.862], "nice": false, "zero": false}, "axis": {"values": [0,23,46,69,92,115,138], "labels": false, "ticks": false, "domain": false, "grid": true, "title": null}, "title": null}, "y": {"field": "v", "type": "quantitative", "title": null}}},
  {"data": {"name": "d60"}, "mark": {"type": "line", "color": "#ff8c2a", "strokeWidth": 2.5, "opacity": 0.75, "clip": true},
   "encoding": {"x": {"field": "i", "type": "quantitative", "title": null}, "y": {"field": "v", "type": "quantitative", "title": null}}}
 ]},
 {"width": 59, "height": 129, "data": {"name": "k60"}, "mark": {"type": "point", "opacity": 0},
  "encoding": {"y": {"field": "v", "type": "quantitative", "scale": {"domain": [-5.1, 104.2], "nice": false, "zero": false}, "axis": {"orient": "right", "offset": -59, "values": [0,25,50,75,100], "format": ".4f", "grid": false, "ticks": true, "tickSize": 4, "domain": false, "labelPadding": 3, "title": null}, "title": null}}}
]},
{"spacing": 0, "hconcat": [
 {"width": 680, "height": 520, "layer": [
  {"data": {"values": [{}]}, "mark": {"type": "text", "text": "USOIL, 60", "fontSize": 105, "color": "#000000", "opacity": 0.09, "align": "center", "baseline": "alphabetic"},
   "encoding": {"x": {"datum": 68.9, "type": "quantitative", "scale": {"domain": [-13.629, 151.862], "nice": false, "zero": false}, "axis": {"values": [0,23,46,69,92,115,138], "labels": false, "ticks": false, "domain": false, "grid": true, "title": null}, "title": null},
    "y": {"datum": 64.105, "type": "quantitative", "scale": {"type": "log", "domain": [61.811, 66.654], "nice": false}, "axis": {"values": [62.0,62.3,62.6,62.9,63.2,63.5,63.9,64.3,64.7,65.1,65.5,66.0,66.5], "labels": false, "ticks": false, "domain": false, "grid": true, "title": null}, "title": null}}},
  {"data": {"values": [{}]}, "mark": {"type": "text", "text": "CFD на нефть WTI", "fontSize": 51, "color": "#000000", "opacity": 0.09, "align": "center", "baseline": "alphabetic"},
   "encoding": {"x": {"datum": 68.9, "type": "quantitative"}, "y": {"datum": 63.48, "type": "quantitative"}}},
  {"data": {"name": "tr60"}, "mark": {"type": "line", "strokeWidth": 1.3, "clip": true},
   "encoding": {"x": {"field": "i", "type": "quantitative", "title": null}, "y": {"field": "p", "type": "quantitative", "title": null}, "detail": {"field": "n"},
    "color": {"field": "n", "type": "nominal", "scale": {"domain": ["a","b","c"], "range": ["#8c4fb0","#8c4fb0","#ff2020"]}, "legend": null}}},
  {"data": {"values": [{"p": 64.66, "i": 18.6}]}, "layer": [
    {"mark": {"type": "rule", "color": "#ff8080", "strokeWidth": 5, "opacity": 0.55},
     "encoding": {"x": {"field": "i", "type": "quantitative", "title": null}, "x2": {"value": "width"}, "y": {"field": "p", "type": "quantitative", "title": null}}},
    {"mark": {"type": "rule", "color": "#ff0000", "strokeWidth": 2},
     "encoding": {"x": {"field": "i", "type": "quantitative", "title": null}, "x2": {"value": "width"}, "y": {"field": "p", "type": "quantitative", "title": null}}}
  ]},
  {"data": {"values": [{"p": 63.30}]}, "mark": {"type": "rule", "color": "#8ccc78", "strokeDash": [3, 2], "strokeWidth": 1},
   "encoding": {"y": {"field": "p", "type": "quantitative", "title": null}}},
  {"data": {"values": [{"p": 63.29, "i": 122}]}, "layer": [
    {"mark": {"type": "rule", "color": "#ff9a9a", "strokeWidth": 4, "opacity": 0.6},
     "encoding": {"x": {"field": "i", "type": "quantitative", "title": null}, "x2": {"value": "width"}, "y": {"field": "p", "type": "quantitative", "title": null}}},
    {"mark": {"type": "rule", "color": "#ff0000", "strokeWidth": 2, "strokeDash": [2, 2]},
     "encoding": {"x": {"field": "i", "type": "quantitative", "title": null}, "x2": {"value": "width"}, "y": {"field": "p", "type": "quantitative", "title": null}}}
  ]},
  {"data": {"name": "ema60"}, "mark": {"type": "line", "color": "#4a8a2e", "strokeWidth": 1.2, "clip": true},
   "encoding": {"x": {"field": "i", "type": "quantitative", "title": null}, "y": {"field": "v", "type": "quantitative", "title": null}}},
  {"data": {"name": "c60"}, "mark": {"type": "rule", "color": "#666666", "strokeWidth": 1, "clip": true},
   "encoding": {"x": {"field": "i", "type": "quantitative", "title": null}, "y": {"field": "lo", "type": "quantitative", "title": null}, "y2": {"field": "hi"}}},
  {"data": {"name": "c60"}, "mark": {"type": "bar", "size": 3, "strokeWidth": 1, "clip": true},
   "encoding": {"x": {"field": "i", "type": "quantitative", "title": null}, "y": {"field": "o", "type": "quantitative", "title": null}, "y2": {"field": "c"},
    "fill": {"condition": {"test": "datum.c >= datum.o", "value": "#b6d7a8"}, "value": "#ff0000"},
    "stroke": {"condition": {"test": "datum.c >= datum.o", "value": "#000000"}, "value": "#7a0000"}}}
 ]},
 {"width": 59, "height": 520, "layer": [
  {"data": {"name": "c60"}, "mark": {"type": "point", "opacity": 0},
   "encoding": {"y": {"field": "c", "type": "quantitative", "scale": {"type": "log", "domain": [61.811, 66.654], "nice": false}, "axis": {"orient": "right", "offset": -59, "values": [62.0,62.3,62.6,62.9,63.2,63.5,63.9,64.3,64.7,65.1,65.5,66.0,66.5], "format": ".2f", "grid": false, "ticks": true, "tickSize": 4, "domain": false, "labelPadding": 3, "labelOverlap": false, "title": null}, "title": null}}},
  {"data": {"name": "mk60"}, "transform": [{"filter": "datum.kind == 'level'"}], "layer": [
    {"mark": {"type": "rule", "color": "#ff0000", "strokeWidth": 15}, "encoding": {"x": {"datum": 0.05, "type": "quantitative", "scale": {"domain": [0, 1]}, "axis": null}, "x2": {"datum": 0.61}, "y": {"field": "p", "type": "quantitative", "title": null}}},
    {"mark": {"type": "text", "color": "#ffffff", "fontSize": 11, "fontWeight": "bold", "align": "center", "baseline": "middle"}, "encoding": {"x": {"datum": 0.33, "type": "quantitative"}, "y": {"field": "p", "type": "quantitative", "title": null}, "text": {"field": "lab"}}}
  ]},
  {"data": {"name": "mk60"}, "transform": [{"filter": "datum.kind == 'price'"}], "layer": [
    {"mark": {"type": "rule", "color": "#b6d7a8", "strokeWidth": 15}, "encoding": {"x": {"datum": 0.05, "type": "quantitative"}, "x2": {"datum": 0.61}, "y": {"field": "p", "type": "quantitative", "title": null}}},
    {"mark": {"type": "text", "color": "#222222", "fontSize": 11, "align": "center", "baseline": "middle"}, "encoding": {"x": {"datum": 0.33, "type": "quantitative"}, "y": {"field": "p", "type": "quantitative", "title": null}, "text": {"field": "lab"}}}
  ]},
  {"data": {"name": "mk60"}, "transform": [{"filter": "datum.kind == 'timer'"}], "layer": [
    {"mark": {"type": "rule", "color": "#b6d7a8", "strokeWidth": 15, "yOffset": 16.5}, "encoding": {"x": {"datum": 0.05, "type": "quantitative"}, "x2": {"datum": 0.61}, "y": {"field": "p", "type": "quantitative", "title": null}}},
    {"mark": {"type": "text", "color": "#222222", "fontSize": 11, "align": "center", "baseline": "middle", "yOffset": 16.5}, "encoding": {"x": {"datum": 0.33, "type": "quantitative"}, "y": {"field": "p", "type": "quantitative", "title": null}, "text": {"field": "lab"}}}
  ]},
  {"data": {"name": "mk60"}, "transform": [{"filter": "datum.kind == 'alert'"}], "layer": [
    {"mark": {"type": "rule", "color": "#ff0000", "strokeWidth": 15, "yOffset": 33}, "encoding": {"x": {"datum": 0.05, "type": "quantitative"}, "x2": {"datum": 0.61}, "y": {"field": "p", "type": "quantitative", "title": null}}},
    {"mark": {"type": "text", "color": "#ffffff", "fontSize": 11, "fontWeight": "bold", "align": "center", "baseline": "middle", "yOffset": 33}, "encoding": {"x": {"datum": 0.33, "type": "quantitative"}, "y": {"field": "p", "type": "quantitative", "title": null}, "text": {"field": "lab"}}}
  ]}
 ]}
]},
{"spacing": 0, "hconcat": [
 {"width": 680, "height": 150, "layer": [
  {"data": {"values": [{"z": 0}]}, "mark": {"type": "rule", "color": "#6b6e78", "strokeDash": [5, 4], "strokeWidth": 1},
   "encoding": {"y": {"field": "z", "type": "quantitative", "scale": {"domain": [-73.8, 41.5], "nice": false, "zero": false}, "axis": {"values": [-50,-25,0,25], "labels": false, "ticks": false, "domain": false, "grid": true, "title": null}, "title": null}}},
  {"data": {"name": "ob60"}, "mark": {"type": "line", "color": "#0000ff", "strokeWidth": 1, "clip": true},
   "encoding": {"x": {"field": "i", "type": "quantitative", "scale": {"domain": [-13.629, 151.862], "nice": false, "zero": false}, "axis": {"values": [0,23,46,69,92,115,138], "labels": false, "ticks": false, "domain": false, "grid": true, "title": null}, "title": null}, "y": {"field": "v", "type": "quantitative", "title": null}}},
  {"data": {"name": "or60"}, "mark": {"type": "line", "color": "#ff0000", "strokeWidth": 1, "clip": true},
   "encoding": {"x": {"field": "i", "type": "quantitative", "title": null}, "y": {"field": "v", "type": "quantitative", "title": null}}}
 ]},
 {"width": 59, "height": 150, "data": {"name": "ob60"}, "mark": {"type": "point", "opacity": 0},
  "encoding": {"y": {"field": "v", "type": "quantitative", "scale": {"domain": [-73.8, 41.5], "nice": false, "zero": false}, "axis": {"orient": "right", "offset": -59, "values": [-50,-25,0,25], "format": ".4f", "grid": false, "ticks": true, "tickSize": 4, "domain": false, "labelPadding": 3, "title": null}, "title": null}}}
]},
{"width": 739, "height": 20, "data": {"name": "c60"}, "mark": {"type": "point", "opacity": 0},
 "encoding": {"x": {"field": "i", "type": "quantitative", "scale": {"domain": [-13.629, 166.221], "nice": false, "zero": false},
  "axis": {"orient": "bottom", "offset": -20, "values": [0,23,46,69,92,115,138], "labelExpr": "['27','28','29','Апр','3','4','5'][round(datum.value/23)]", "labelFontSize": 11, "labelPadding": 4, "grid": false, "ticks": false, "domain": false, "labelFlush": false, "labelFontWeight": {"condition": {"test": "datum.value == 69", "value": "bold"}, "value": "normal"}, "title": null}, "title": null}}}
]
},
{
"title": {"text": "FX:USOIL, 15  63.30 ▼ −0.26 (−0.41%)  O:63.26  H:63.31  L:63.26  C:63.30", "anchor": "start", "dx": 2, "fontSize": 13, "fontWeight": "normal", "color": "#222222", "offset": 5, "font": "Liberation Sans, sans-serif"},
"spacing": -2,
"vconcat": [
{"spacing": 0, "hconcat": [
 {"width": 678, "height": 129, "layer": [
  {"data": {"values": [{}]}, "mark": {"type": "rect", "fill": "#9c27b0", "opacity": 0.25},
   "encoding": {"x": {"value": 0}, "x2": {"value": "width"}, "y": {"datum": 20, "type": "quantitative", "scale": {"domain": [3.8, 107.8], "nice": false, "zero": false}, "axis": {"values": [25,50,75,100], "labels": false, "ticks": false, "domain": false, "grid": true, "title": null}, "title": null}, "y2": {"datum": 80}}},
  {"data": {"values": [{"lvl": 80}, {"lvl": 50}, {"lvl": 20}]}, "mark": {"type": "rule", "color": "#6b6e78", "strokeDash": [5, 4], "strokeWidth": 1},
   "encoding": {"y": {"field": "lvl", "type": "quantitative", "title": null}}},
  {"data": {"name": "k15"}, "mark": {"type": "line", "color": "#3a3a3a", "strokeWidth": 1, "clip": true},
   "encoding": {"x": {"field": "t", "type": "quantitative", "scale": {"domain": [16.2285, 21.2582], "nice": false, "zero": false}, "axis": {"values": [17,18,19,20,21], "labels": false, "ticks": false, "domain": false, "grid": true, "title": null}, "title": null}, "y": {"field": "v", "type": "quantitative", "title": null}}},
  {"data": {"name": "d15"}, "mark": {"type": "line", "color": "#ff8c2a", "strokeWidth": 2.5, "opacity": 0.75, "clip": true},
   "encoding": {"x": {"field": "t", "type": "quantitative", "title": null}, "y": {"field": "v", "type": "quantitative", "title": null}}}
 ]},
 {"width": 62, "height": 129, "data": {"name": "k15"}, "mark": {"type": "point", "opacity": 0},
  "encoding": {"y": {"field": "v", "type": "quantitative", "scale": {"domain": [3.8, 107.8], "nice": false, "zero": false}, "axis": {"orient": "right", "offset": -62, "values": [25,50,75,100], "format": ".4f", "grid": false, "ticks": true, "tickSize": 4, "domain": false, "labelPadding": 3, "title": null}, "title": null}}}
]},
{"spacing": 0, "hconcat": [
 {"width": 678, "height": 520, "layer": [
  {"data": {"values": [{}]}, "mark": {"type": "text", "text": "USOIL, 15", "fontSize": 103, "color": "#000000", "opacity": 0.09, "align": "center", "baseline": "alphabetic"},
   "encoding": {"x": {"datum": 18.758, "type": "quantitative", "scale": {"domain": [16.2285, 21.2582], "nice": false, "zero": false}, "axis": {"values": [17,18,19,20,21], "labels": false, "ticks": false, "domain": false, "grid": true, "title": null}, "title": null},
    "y": {"datum": 62.727, "type": "quantitative", "scale": {"type": "log", "domain": [61.966, 63.528], "nice": false}, "axis": {"values": [62.01,62.1,62.2,62.3,62.4,62.5,62.6,62.7,62.8,62.9,63.0,63.1,63.2,63.3,63.4,63.5], "labels": false, "ticks": false, "domain": false, "grid": true, "title": null}, "title": null}}},
  {"data": {"values": [{}]}, "mark": {"type": "text", "text": "CFD на нефть WTI", "fontSize": 51, "color": "#000000", "opacity": 0.09, "align": "center", "baseline": "alphabetic"},
   "encoding": {"x": {"datum": 18.758, "type": "quantitative"}, "y": {"datum": 62.518, "type": "quantitative"}}},
  {"data": {"values": [{"p": 63.29}]}, "layer": [
    {"mark": {"type": "rule", "color": "#ff8080", "strokeWidth": 5, "opacity": 0.55}, "encoding": {"y": {"field": "p", "type": "quantitative", "title": null}}},
    {"mark": {"type": "rule", "color": "#ff0000", "strokeWidth": 2}, "encoding": {"y": {"field": "p", "type": "quantitative", "title": null}}}
  ]},
  {"data": {"values": [{"p": 63.30}]}, "mark": {"type": "rule", "color": "#8ccc78", "strokeDash": [3, 2], "strokeWidth": 1},
   "encoding": {"y": {"field": "p", "type": "quantitative", "title": null}}},
  {"data": {"name": "ema15"}, "mark": {"type": "line", "color": "#4a8a2e", "strokeWidth": 1.2, "clip": true},
   "encoding": {"x": {"field": "t", "type": "quantitative", "title": null}, "y": {"field": "v", "type": "quantitative", "title": null}}},
  {"data": {"name": "c15"}, "mark": {"type": "rule", "color": "#555555", "strokeWidth": 1, "clip": true},
   "encoding": {"x": {"field": "t", "type": "quantitative", "title": null}, "y": {"field": "lo", "type": "quantitative", "title": null}, "y2": {"field": "hi"}}},
  {"data": {"name": "c15"}, "mark": {"type": "bar", "size": 20, "strokeWidth": 1, "clip": true},
   "encoding": {"x": {"field": "t", "type": "quantitative", "title": null}, "y": {"field": "o", "type": "quantitative", "title": null}, "y2": {"field": "c"},
    "fill": {"condition": {"test": "datum.c >= datum.o", "value": "#b6d7a8"}, "value": "#ff0000"},
    "stroke": {"condition": {"test": "datum.c >= datum.o", "value": "#000000"}, "value": "#7a0000"}}}
 ]},
 {"width": 62, "height": 520, "layer": [
  {"data": {"name": "c15"}, "mark": {"type": "point", "opacity": 0},
   "encoding": {"y": {"field": "c", "type": "quantitative", "scale": {"type": "log", "domain": [61.966, 63.528], "nice": false}, "axis": {"orient": "right", "offset": -62, "values": [62.01,62.1,62.2,62.3,62.4,62.5,62.6,62.7,62.8,62.9,63.0,63.1,63.2,63.3,63.4,63.5], "format": ".2f", "grid": false, "ticks": true, "tickSize": 4, "domain": false, "labelPadding": 3, "labelOverlap": false, "title": null}, "title": null}}},
  {"data": {"name": "mk15"}, "transform": [{"filter": "datum.kind == 'price'"}], "layer": [
    {"mark": {"type": "rule", "color": "#b6d7a8", "strokeWidth": 15}, "encoding": {"x": {"datum": 0.11, "type": "quantitative", "scale": {"domain": [0, 1]}, "axis": null}, "x2": {"datum": 0.63}, "y": {"field": "p", "type": "quantitative", "title": null}}},
    {"mark": {"type": "text", "color": "#222222", "fontSize": 11, "align": "center", "baseline": "middle"}, "encoding": {"x": {"datum": 0.37, "type": "quantitative"}, "y": {"field": "p", "type": "quantitative", "title": null}, "text": {"field": "lab"}}}
  ]},
  {"data": {"name": "mk15"}, "transform": [{"filter": "datum.kind == 'timer'"}], "layer": [
    {"mark": {"type": "rule", "color": "#b6d7a8", "strokeWidth": 15, "yOffset": 17}, "encoding": {"x": {"datum": 0.11, "type": "quantitative"}, "x2": {"datum": 0.63}, "y": {"field": "p", "type": "quantitative", "title": null}}},
    {"mark": {"type": "text", "color": "#222222", "fontSize": 11, "align": "center", "baseline": "middle", "yOffset": 17}, "encoding": {"x": {"datum": 0.37, "type": "quantitative"}, "y": {"field": "p", "type": "quantitative", "title": null}, "text": {"field": "lab"}}}
  ]},
  {"data": {"name": "mk15"}, "transform": [{"filter": "datum.kind == 'alert'"}], "layer": [
    {"mark": {"type": "rule", "color": "#ff0000", "strokeWidth": 15, "yOffset": 34}, "encoding": {"x": {"datum": 0.11, "type": "quantitative"}, "x2": {"datum": 0.63}, "y": {"field": "p", "type": "quantitative", "title": null}}},
    {"mark": {"type": "text", "color": "#ffffff", "fontSize": 11, "fontWeight": "bold", "align": "center", "baseline": "middle", "yOffset": 34}, "encoding": {"x": {"datum": 0.37, "type": "quantitative"}, "y": {"field": "p", "type": "quantitative", "title": null}, "text": {"field": "lab"}}}
  ]}
 ]}
]},
{"spacing": 0, "hconcat": [
 {"width": 678, "height": 150, "layer": [
  {"data": {"values": [{"z": 0}]}, "mark": {"type": "rule", "color": "#6b6e78", "strokeDash": [5, 4], "strokeWidth": 1},
   "encoding": {"y": {"field": "z", "type": "quantitative", "scale": {"domain": [-39.7, 53.5], "nice": false, "zero": false}, "axis": {"values": [-20,0,20,40], "labels": false, "ticks": false, "domain": false, "grid": true, "title": null}, "title": null}}},
  {"data": {"name": "ob15"}, "mark": {"type": "line", "color": "#0000ff", "strokeWidth": 1, "clip": true},
   "encoding": {"x": {"field": "t", "type": "quantitative", "scale": {"domain": [16.2285, 21.2582], "nice": false, "zero": false}, "axis": {"values": [17,18,19,20,21], "labels": false, "ticks": false, "domain": false, "grid": true, "title": null}, "title": null}, "y": {"field": "v", "type": "quantitative", "title": null}}},
  {"data": {"name": "or15"}, "mark": {"type": "line", "color": "#ff0000", "strokeWidth": 1, "clip": true},
   "encoding": {"x": {"field": "t", "type": "quantitative", "title": null}, "y": {"field": "v", "type": "quantitative", "title": null}}}
 ]},
 {"width": 62, "height": 150, "data": {"name": "ob15"}, "mark": {"type": "point", "opacity": 0},
  "encoding": {"y": {"field": "v", "type": "quantitative", "scale": {"domain": [-39.7, 53.5], "nice": false, "zero": false}, "axis": {"orient": "right", "offset": -62, "values": [-20,0,20,40], "format": ".4f", "grid": false, "ticks": true, "tickSize": 4, "domain": false, "labelPadding": 3, "title": null}, "title": null}}}
]},
{"width": 740, "height": 20, "data": {"name": "c15"}, "mark": {"type": "point", "opacity": 0},
 "encoding": {"x": {"field": "t", "type": "quantitative", "scale": {"domain": [16.2285, 21.7181], "nice": false, "zero": false},
  "axis": {"orient": "bottom", "offset": -20, "values": [17,18,19,20,21], "labelExpr": "datum.value + ':00'", "labelFontSize": 11, "labelFontWeight": "bold", "labelPadding": 4, "grid": false, "ticks": false, "domain": false, "labelFlush": false, "title": null}, "title": null}}}
]
}
]
}
]
}
